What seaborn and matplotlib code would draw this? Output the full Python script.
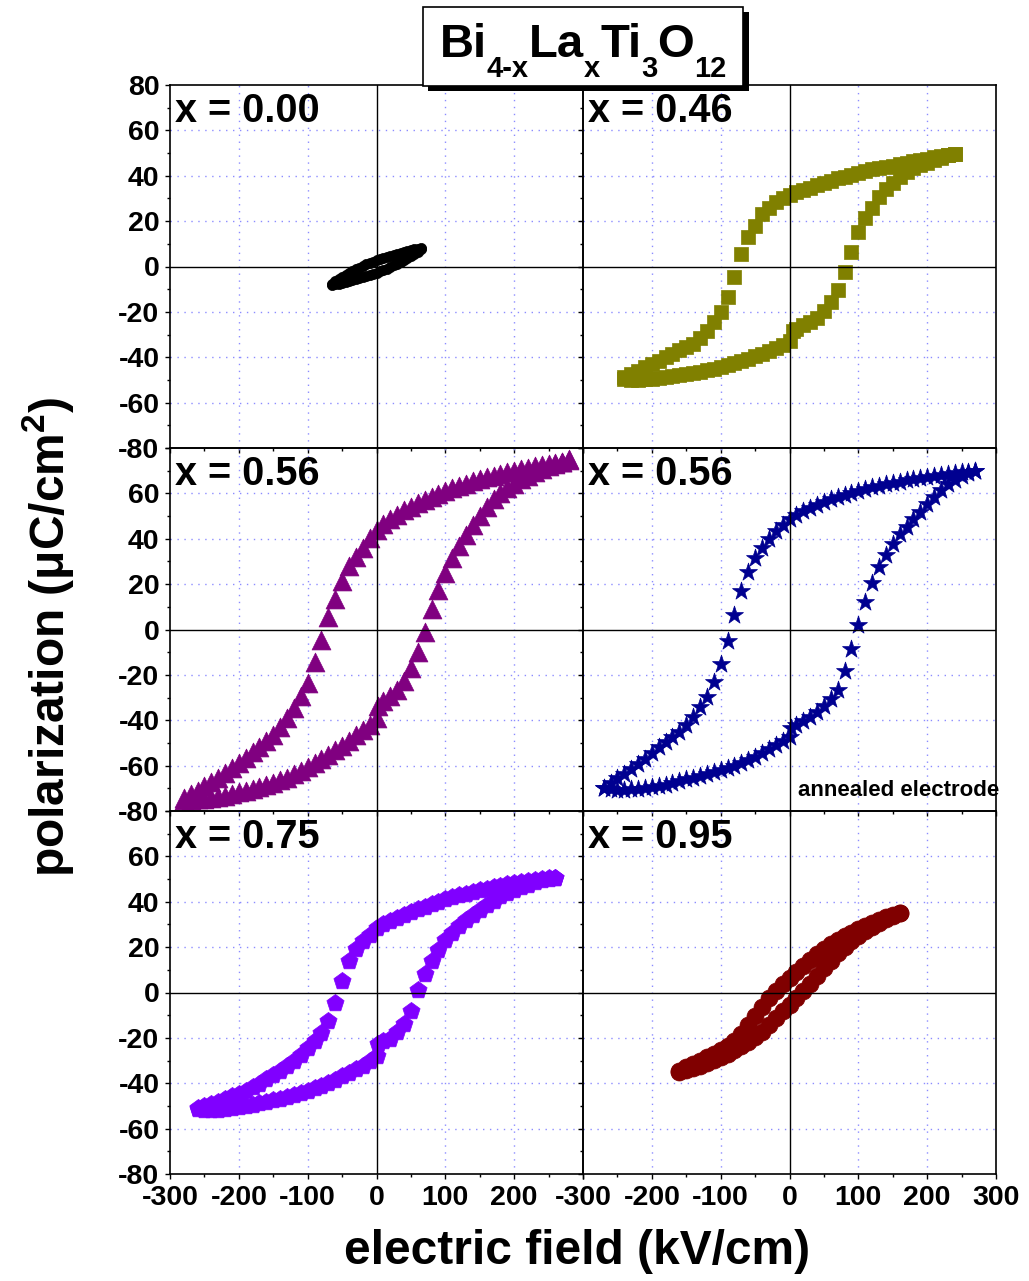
import numpy as np
import pandas as pd
import matplotlib
matplotlib.use("Agg")
import matplotlib.pyplot as plt
import seaborn as sns
from matplotlib.patches import Rectangle
from matplotlib.ticker import FixedLocator

# ---------------- data (E in kV/cm, P in uC/cm^2) ----------------
# x = 0.00
E000_up = [65, 60, 55, 50, 45, 40, 35, 30, 25, 20, 15, 10, 5, 0, -5, -10, -15, -20, -25, -30, -35, -40, -45, -50, -55, -60, -65]
P000_up = [8.0, 7.9, 7.6, 7.3, 6.9, 6.5, 6.1, 5.6, 5.2, 4.7, 4.2, 3.7, 3.2, 2.7, 2.1, 1.5, 0.9, 0.2, -0.5, -1.2, -2.0, -2.8, -3.7, -4.6, -5.6, -6.6, -7.8]
E000_dn = [-65, -60, -55, -50, -45, -40, -35, -30, -25, -20, -15, -10, -5, 0, 5, 10, 15, 20, 25, 30, 35, 40, 45, 50, 55, 60, 65]
P000_dn = [-8.0, -7.9, -7.6, -7.3, -6.9, -6.5, -6.1, -5.6, -5.2, -4.7, -4.2, -3.7, -3.2, -2.7, -2.1, -1.5, -0.9, -0.2, 0.5, 1.2, 2.0, 2.8, 3.7, 4.6, 5.6, 6.6, 7.8]

# x = 0.46
E046_up = [240, 230, 220, 210, 200, 190, 180, 170, 160, 150, 140, 130, 120, 110, 100, 90, 80, 70, 60, 50, 40, 30, 20, 10, 0,
           -10, -20, -30, -40, -50, -60, -70, -80, -90, -100, -110, -120, -130, -140, -150, -160, -170, -180, -190, -200, -210, -220, -230, -240]
P046_up = [49.8, 49.3, 48.7, 48.1, 47.5, 47.0, 46.4, 45.8, 45.1, 44.5, 43.9, 43.3, 42.8, 42.0, 41.2, 40.4, 39.6, 38.8, 37.8, 36.8, 35.8, 34.8, 33.8, 32.8, 31.5,
           30.0, 28.3, 26.0, 23.0, 18.0, 12.8, 5.5, -4.5, -13.5, -20.0, -24.5, -28.5, -31.5, -34.0, -35.5, -37.0, -38.5, -40.0, -41.5, -43.0, -44.5, -46.0, -47.3, -48.7]
E046_dn = [-240, -230, -220, -210, -200, -190, -180, -170, -160, -150, -140, -130, -120, -110, -100, -90, -80, -70, -60, -50, -40, -30, -20, -10, 0,
           5, 10, 20, 30, 40, 50, 60, 70, 80, 90, 100, 110, 120, 130, 140, 150, 160, 170, 180, 190, 200, 210, 220, 230, 240]
P046_dn = [-49.5, -50.0, -50.0, -49.8, -49.5, -49.2, -48.8, -48.4, -48.0, -47.5, -47.0, -46.3, -45.6, -45.0, -44.2, -43.4, -42.5, -41.6, -40.6, -39.5, -38.4, -37.2, -35.8, -34.5, -33.0,
           -28.5, -27.5, -26.0, -24.5, -22.5, -19.5, -15.5, -10.5, -2.5, 6.5, 15.0, 21.5, 26.0, 30.5, 34.0, 37.0, 39.5, 41.5, 43.5, 44.7, 45.8, 47.0, 48.0, 49.0, 49.8]

# x = 0.56
E056_up = [280, 270, 260, 250, 240, 230, 220, 210, 200, 190, 180, 170, 160, 150, 140, 130, 120, 110, 100, 90, 80, 70, 60, 50, 40, 30, 20, 10, 0,
           -10, -20, -30, -40, -50, -60, -70, -80, -90, -100, -110, -120, -130, -140, -150, -160, -170, -180, -190, -200, -210, -220, -230, -240, -250, -260, -270, -280]
P056_up = [74.5, 74.0, 73.5, 73.0, 72.5, 72.0, 71.3, 70.7, 70.0, 69.3, 68.6, 67.8, 67.0, 66.2, 65.3, 64.3, 63.3, 62.2, 61.0, 59.8, 58.5, 57.2, 55.8, 54.2, 52.5, 50.6, 48.6, 46.3, 43.8,
           40.5, 36.0, 32.0, 28.0, 21.5, 13.5, 5.5, -4.5, -14.5, -23.5, -29.5, -34.5, -39.0, -43.0, -46.5, -49.0, -51.8, -54.2, -56.5, -58.8, -61.0, -63.2, -65.3, -67.2, -69.2, -71.0, -72.7, -74.3]
E056_dn = [-280, -270, -260, -250, -240, -230, -220, -210, -200, -190, -180, -170, -160, -150, -140, -130, -120, -110, -100, -90, -80, -70, -60, -50, -40, -30, -20, -10, 0,
           2, 10, 20, 30, 40, 50, 60, 70, 80, 90, 100, 110, 120, 130, 140, 150, 160, 170, 180, 190, 200, 210, 220, 230, 240, 250, 260, 270, 280]
P056_dn = [-75.0, -75.0, -74.8, -74.5, -74.2, -74.0, -73.4, -72.6, -71.8, -71.0, -70.2, -69.4, -68.6, -67.6, -66.5, -65.3, -63.8, -62.3, -60.7, -59.0, -57.2, -55.3, -53.3, -51.2, -49.0, -46.7, -44.5, -42.2, -39.0,
           -33.5, -31.5, -29.5, -26.5, -22.5, -17.0, -10.0, -1.0, 9.0, 17.5, 25.0, 31.5, 37.0, 41.8, 46.0, 50.0, 54.0, 57.4, 60.0, 62.3, 64.2, 66.2, 67.8, 69.3, 70.8, 72.0, 73.0, 74.0, 75.0]

# x = 0.56, annealed electrode
E056a_up = [270, 260, 250, 240, 230, 220, 210, 200, 190, 180, 170, 160, 150, 140, 130, 120, 110, 100, 90, 80, 70, 60, 50, 40, 30, 20, 10, 0,
            -10, -20, -30, -40, -50, -60, -70, -80, -90, -100, -110, -120, -130, -140, -150, -160, -170, -180, -190, -200, -210, -220, -230, -240, -250, -260, -270]
P056a_up = [70.0, 69.6, 69.3, 69.0, 68.6, 68.2, 67.8, 67.3, 66.8, 66.3, 65.8, 65.2, 64.6, 64.0, 63.3, 62.6, 61.8, 61.0, 60.0, 59.2, 58.3, 57.5, 56.4, 55.0, 53.6, 52.2, 50.6, 48.5,
            46.0, 43.5, 40.0, 36.0, 31.5, 25.5, 17.0, 6.5, -5.0, -15.0, -23.0, -29.8, -34.2, -38.5, -41.9, -45.0, -47.5, -49.8, -52.0, -54.5, -57.0, -59.2, -61.3, -63.5, -65.5, -67.5, -69.8]
E056a_dn = [-270, -260, -250, -240, -230, -220, -210, -200, -190, -180, -170, -160, -150, -140, -130, -120, -110, -100, -90, -80, -70, -60, -50, -40, -30, -20, -10, 0,
            2, 10, 20, 30, 40, 50, 60, 70, 80, 90, 100, 110, 120, 130, 140, 150, 160, 170, 180, 190, 200, 210, 220, 230, 240, 250, 260, 270]
P056a_dn = [-70.0, -70.5, -70.6, -70.6, -70.4, -70.2, -69.9, -69.5, -69.0, -68.5, -67.6, -66.8, -66.1, -65.3, -64.5, -63.7, -63.0, -62.1, -61.1, -60.1, -59.0, -57.6, -56.0, -54.4, -52.6, -50.8, -49.0, -47.5,
            -43.5, -42.0, -40.3, -38.5, -36.5, -33.5, -30.5, -26.5, -18.5, -8.5, 2.0, 12.0, 20.5, 27.5, 33.0, 37.5, 41.9, 45.0, 48.5, 52.0, 55.3, 58.5, 61.5, 64.0, 66.0, 67.6, 69.0, 70.0]

# x = 0.75
E075_up = [260, 250, 240, 230, 220, 210, 200, 190, 180, 170, 160, 150, 140, 130, 120, 110, 100, 90, 80, 70, 60, 50, 40, 30, 20, 10, 0,
           -10, -20, -30, -40, -50, -60, -70, -80, -90, -100, -110, -120, -130, -140, -150, -160, -170, -180, -190, -200, -210, -220, -230, -240, -250, -260]
P075_up = [50.6, 50.3, 50.0, 49.6, 49.2, 48.7, 48.2, 47.7, 47.1, 46.5, 45.8, 45.1, 44.4, 43.6, 42.8, 41.9, 41.0, 40.0, 38.9, 37.8, 36.7, 35.5, 34.2, 32.8, 31.3, 30.0, 28.3,
           25.5, 22.5, 19.3, 14.0, 5.0, -4.5, -12.5, -18.0, -21.5, -24.5, -27.5, -30.0, -32.3, -34.4, -36.4, -38.3, -40.2, -41.8, -43.3, -44.6, -45.8, -47.0, -48.1, -49.1, -50.0, -50.8]
E075_dn = [-260, -250, -240, -230, -220, -210, -200, -190, -180, -170, -160, -150, -140, -130, -120, -110, -100, -90, -80, -70, -60, -50, -40, -30, -20, -10, 0,
           2, 10, 20, 30, 40, 50, 60, 70, 80, 90, 100, 110, 120, 130, 140, 150, 160, 170, 180, 190, 200, 210, 220, 230, 240, 250, 260]
P075_dn = [-51.5, -52.0, -52.0, -51.7, -51.3, -51.0, -50.6, -50.1, -49.5, -48.8, -48.2, -47.5, -46.8, -46.0, -45.2, -44.4, -43.5, -42.3, -41.1, -39.8, -38.4, -37.0, -35.5, -33.8, -32.3, -30.2, -28.0,
           -22.5, -21.5, -20.3, -17.3, -13.8, -8.0, 1.0, 8.0, 14.0, 18.6, 23.0, 26.3, 29.3, 31.8, 34.0, 36.2, 38.6, 40.5, 42.5, 44.0, 45.3, 46.4, 47.6, 48.8, 49.6, 50.2, 50.6]

# x = 0.95
E095_up = [160, 150, 140, 130, 120, 110, 100, 90, 80, 70, 60, 50, 40, 30, 20, 10, 0,
           -10, -20, -30, -40, -50, -60, -70, -80, -90, -100, -110, -120, -130, -140, -150, -160]
P095_up = [35.0, 34.2, 33.2, 32.0, 30.6, 29.2, 27.8, 26.3, 24.7, 23.0, 21.2, 19.3, 17.0, 14.5, 11.8, 9.2, 6.6,
           3.8, 0.8, -2.5, -6.2, -10.3, -14.5, -18.2, -21.2, -23.5, -25.3, -27.0, -28.5, -30.0, -31.5, -33.0, -34.7]
E095_dn = [-160, -150, -140, -130, -120, -110, -100, -90, -80, -70, -60, -50, -40, -30, -20, -10, 0,
           10, 20, 30, 40, 50, 60, 70, 80, 90, 100, 110, 120, 130, 140, 150, 160]
P095_dn = [-35.0, -34.2, -33.4, -32.4, -31.2, -29.9, -28.5, -27.0, -25.3, -23.5, -21.7, -19.6, -17.2, -14.4, -11.3, -8.3, -5.5,
           -2.5, 0.6, 3.9, 7.2, 10.6, 14.0, 17.2, 20.1, 22.8, 25.0, 27.0, 28.8, 30.6, 32.3, 33.8, 35.0]

panel_labels = ["x = 0.00", "x = 0.46", "x = 0.56", "x = 0.56", "x = 0.75", "x = 0.95"]
x_ticks = [-300, -200, -100, 0, 100, 200, 300]
y_ticks = [-80, -60, -40, -20, 0, 20, 40, 60, 80]

# ---------------- style ----------------
sns.set_style("ticks")
plt.rcParams['font.family'] = ['Liberation Sans', 'DejaVu Sans']
plt.rcParams['font.weight'] = 'bold'
plt.rcParams['text.color'] = 'black'
plt.rcParams['axes.labelcolor'] = 'black'
plt.rcParams['xtick.color'] = 'black'
plt.rcParams['ytick.color'] = 'black'
plt.rcParams['mathtext.fontset'] = 'custom'
plt.rcParams['mathtext.rm'] = 'Liberation Sans:bold'
plt.rcParams['mathtext.bf'] = 'Liberation Sans:bold'
plt.rcParams['mathtext.it'] = 'Liberation Sans:bold'

W, H = 1029, 1281
fig = plt.figure(figsize=(W / 100, H / 100), dpi=100)
fig.patch.set_facecolor('white')


def fx(px):
    return px / W


def fy(py):
    return 1 - py / H


col_x = [170, 583]
row_y = [85, 448, 811]
pw, ph = 413, 363

panels = [
    (E000_up, P000_up, E000_dn, P000_dn, 'o', 'black', 54),
    (E046_up, P046_up, E046_dn, P046_dn, 's', '#808000', 105),
    (E056_up, P056_up, E056_dn, P056_dn, '^', '#800080', 185),
    (E056a_up, P056a_up, E056a_dn, P056a_dn, '*', '#000090', 185),
    (E075_up, P075_up, E075_dn, P075_dn, 'p', '#8000FF', 170),
    (E095_up, P095_up, E095_dn, P095_dn, 'o', '#800000', 150),
]

grid_color = '#8c8cff'
for i, (Eu, Pu, Ed, Pd, mk, colr, size) in enumerate(panels):
    r, c = divmod(i, 2)
    ax = fig.add_axes([fx(col_x[c]), fy(row_y[r] + ph), pw / W, ph / H])
    ax.set_facecolor('none')
    df = pd.DataFrame({'E': list(Eu) + list(Ed), 'P': list(Pu) + list(Pd)})
    for gx in [-200, -100, 100, 200]:
        ax.axvline(gx, color=grid_color, lw=1.0, ls=(0, (1, 4)), zorder=0.5)
    for gy in [-60, -40, -20, 20, 40, 60]:
        ax.axhline(gy, color=grid_color, lw=1.0, ls=(0, (1, 4)), zorder=0.5)
    sns.scatterplot(data=df, x='E', y='P', ax=ax, marker=mk, s=size, color=colr,
                    edgecolor=colr, linewidth=0.5, legend=False, zorder=2)
    ax.axhline(0, color='black', lw=1.0, zorder=3)
    ax.axvline(0, color='black', lw=1.0, zorder=3)
    ax.set_xlim(-300, 300)
    ax.set_ylim(-80, 80)
    ax.set_xlabel('')
    ax.set_ylabel('')
    ax.xaxis.set_major_locator(FixedLocator(x_ticks))
    ax.xaxis.set_minor_locator(FixedLocator([-250, -150, -50, 50, 150, 250]))
    ax.yaxis.set_major_locator(FixedLocator(y_ticks))
    ax.yaxis.set_minor_locator(FixedLocator([-70, -50, -30, -10, 10, 30, 50, 70]))
    ax.tick_params(which='both', direction='out', left=True, bottom=True, top=False, right=False,
                   color='black', labelcolor='black', width=1.0)
    ax.tick_params(which='major', length=3.6, labelsize=20.5)
    ax.tick_params(axis='y', which='major', pad=4.0)
    ax.tick_params(axis='x', which='major', pad=4.5)
    ax.tick_params(which='minor', length=2.2)
    if c == 0:
        ylabs = [str(v) for v in y_ticks]
        if r > 0:
            ylabs[-1] = ''
        ax.set_yticklabels(ylabs, fontweight='bold')
    else:
        ax.set_yticklabels([''] * len(y_ticks))
    if r == 2:
        xlabs = [str(v) for v in x_ticks]
        if c == 0:
            xlabs[-1] = ''
        ax.set_xticklabels(xlabs, fontweight='bold')
    else:
        ax.set_xticklabels([''] * len(x_ticks))
    for sp in ax.spines.values():
        sp.set_visible(True)
        sp.set_color('black')
        sp.set_linewidth(1.2)
    ax.text(0.013, 0.898, panel_labels[i], transform=ax.transAxes, fontsize=28.5,
            fontweight='bold', ha='left', va='baseline', color='black', zorder=5)
    if i == 3:
        ax.text(1.008, 0.041, 'annealed electrode', transform=ax.transAxes, fontsize=16,
                fontweight='bold', ha='right', va='baseline', color='black', zorder=5)

# ---------------- title box ----------------
shadow = Rectangle((fx(428), fy(91)), 321 / W, 79 / H, transform=fig.transFigure,
                   facecolor='black', edgecolor='none', zorder=6)
box = Rectangle((fx(423), fy(86)), 320 / W, 79 / H, transform=fig.transFigure,
                facecolor='white', edgecolor='black', linewidth=1.2, zorder=7)
fig.add_artist(shadow)
fig.add_artist(box)

renderer = fig.canvas.get_renderer()
pieces = [("Bi", False), ("4-x", True), ("La", False), ("x", True),
          ("Ti", False), ("3", True), ("O", False), ("12", True)]
main_fs, sub_fs = 34, 21
texts, widths = [], []
for s, sub in pieces:
    t = fig.text(0, 0, s, fontsize=sub_fs if sub else main_fs, fontweight='bold',
                 ha='left', va='baseline', color='black', zorder=8)
    bb = t.get_window_extent(renderer)
    texts.append(t)
    widths.append(bb.width)
xpos = 583 - sum(widths) / 2
for t, (s, sub), w in zip(texts, pieces, widths):
    t.set_position((fx(xpos), fy(77 if sub else 57)))
    xpos += w

# ---------------- axis labels ----------------
fig.text(fx(577), fy(1252), "electric field (kV/cm)", fontsize=34.5, fontweight='bold',
         ha='center', va='center', color='black')
fig.text(fx(48), fy(637), "polarization (μC/cm$^{2}$)", fontsize=34.5, fontweight='bold',
         rotation=90, ha='center', va='center', color='black')

fig.savefig("out.png", dpi=100, facecolor='white')
